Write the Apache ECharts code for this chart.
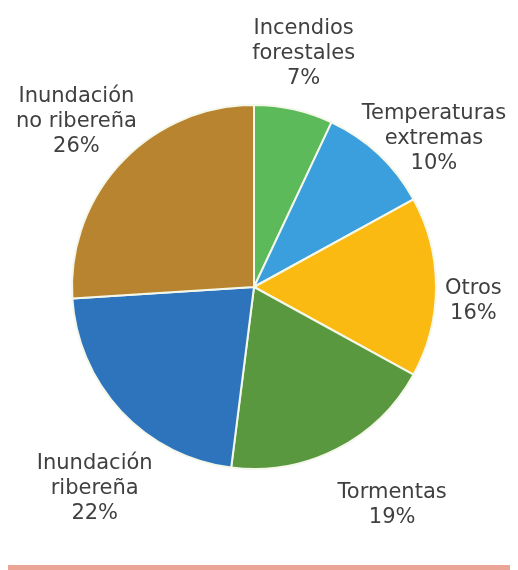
<!DOCTYPE html>
<html>
<head>
<meta charset="utf-8">
<script src="https://cdn.jsdelivr.net/npm/echarts@6/dist/echarts.min.js"></script>
<style>
html,body{margin:0;padding:0;background:#fff;}
#chart{width:518px;height:570px;}
</style>
</head>
<body>
<div id="chart"></div>
<script>
const categories = ['Incendios\nforestales', 'Temperaturas\nextremas', 'Otros', 'Tormentas', 'Inundación\nribereña', 'Inundación\nno ribereña'];
const values = [7, 10, 16, 19, 22, 26];
const colors = ['#5dba5a', '#3a9fdc', '#fbba12', '#5a9840', '#2e74bd', '#b9842f'];

// label placement tweaks (style, not data)
const labelNudge = [[-2, -2], [-2, 45], [2, 14], [31, 8], [28, 26], [11, 12]];

const CX = 254, CY = 287, R = 182, GAP = 7;
const total = values.reduce((a, b) => a + b, 0);
function midAngle(i) {
  let cum = 0;
  for (let k = 0; k < i; k++) cum += values[k];
  return (cum + values[i] / 2) / total * Math.PI * 2;
}

const chart = echarts.init(document.getElementById('chart'), null, {renderer: 'canvas'});
chart.setOption({
  backgroundColor: '#ffffff',
  animation: false,
  graphic: [{
    type: 'rect',
    shape: {x: 8, y: 565, width: 502, height: 5},
    style: {fill: '#eaa597'}
  }],
  series: [{
    type: 'pie',
    center: [CX, CY],
    radius: R,
    startAngle: 90,
    clockwise: true,
    avoidLabelOverlap: false,
    itemStyle: {borderColor: '#f4f8ea', borderWidth: 2},
    label: {
      show: true,
      position: 'outside',
      fontFamily: 'DejaVu Sans',
      fontSize: 21,
      lineHeight: 25,
      color: '#404040',
      align: 'center',
      formatter: p => p.name + '\n' + p.value + '%'
    },
    labelLine: {show: false},
    labelLayout: function (p) {
      const i = p.dataIndex;
      const a = midAngle(i);
      const ux = Math.sin(a), uy = -Math.cos(a);
      const w = p.labelRect.width, h = p.labelRect.height;
      const d = R + GAP + Math.abs(ux) * w / 2 + Math.abs(uy) * h / 2;
      return {
        x: CX + ux * d + labelNudge[i][0],
        y: CY + uy * d + labelNudge[i][1],
        align: 'center', verticalAlign: 'middle'
      };
    },
    emphasis: {disabled: true},
    data: categories.map((c, i) => ({name: c, value: values[i], itemStyle: {color: colors[i]}}))
  }]
});
</script>
</body>
</html>
